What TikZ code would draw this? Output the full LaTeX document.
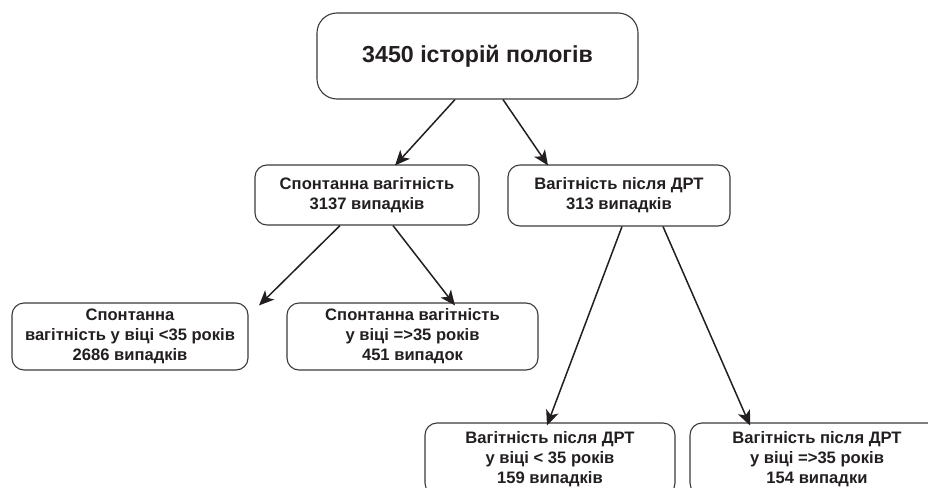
\documentclass[tikz,border=0pt]{standalone}
\usepackage{fontspec}
\setmainfont{Liberation Sans}
\usetikzlibrary{arrows.meta,calc}
\definecolor{ink}{HTML}{231F20}
\definecolor{edge}{HTML}{3A3A3A}
\begin{document}
\begin{tikzpicture}[x=1pt,y=-1pt,
  box/.style={draw=edge,line width=1.1pt,rounded corners=12pt,align=center,
    text=ink,font=\bfseries\fontsize{16.6}{20}\selectfont,inner sep=0pt},
  conn/.style={draw=ink,line width=1.5pt,-{Stealth[length=15pt,width=13pt,inset=4pt]}}]
\useasboundingbox (0,0) rectangle (928,487);
\node[box,rounded corners=20pt,minimum width=321pt,minimum height=86pt,
  font=\bfseries\fontsize{23.2}{27}\selectfont] (top) at (477.5,56) {3450 історій пологів};
\node[box,minimum width=224pt,minimum height=60pt] (sp) at (367,195)
  {Спонтанна вагітність\\3137 випадків};
\node[box,minimum width=222pt,minimum height=61pt] (drt) at (619,195.5)
  {Вагітність після ДРТ\\313 випадків};
\node[box,minimum width=236pt,minimum height=67pt] (spl) at (130,336.5)
  {Спонтанна\\вагітність у віці <35 років\\2686 випадків};
\node[box,minimum width=251pt,minimum height=67pt] (spg) at (412.5,336.5)
  {Спонтанна вагітність\\у віці =>35 років\\451 випадок};
\node[box,minimum width=250pt,minimum height=72pt] (drl) at (550,459)
  {Вагітність після ДРТ\\у віці < 35 років\\159 випадків};
\node[box,minimum width=254pt,minimum height=72pt] (drg) at (817,459)
  {Вагітність після ДРТ\\у віці =>35 років\\154 випадки};
\draw[conn] ([xshift=-22.5pt]top.south) -- ([xshift=28pt,yshift=-1pt]sp.north);
\draw[conn] ([xshift=25.5pt]top.south) -- ([xshift=-71pt,yshift=-1pt]drt.north);
\draw[conn] ([xshift=-27pt]sp.south) -- ([xshift=129pt,yshift=-3pt]spl.north);
\draw[conn] ([xshift=26pt]sp.south) -- ([xshift=42.5pt,yshift=-3pt]spg.north);
\draw[conn] ([xshift=3pt]drt.south) -- ([xshift=-3pt,yshift=-3pt]drl.north);
\draw[conn] ([xshift=44pt]drt.south) -- ([xshift=-67pt,yshift=-3pt]drg.north);
\end{tikzpicture}
\end{document}
